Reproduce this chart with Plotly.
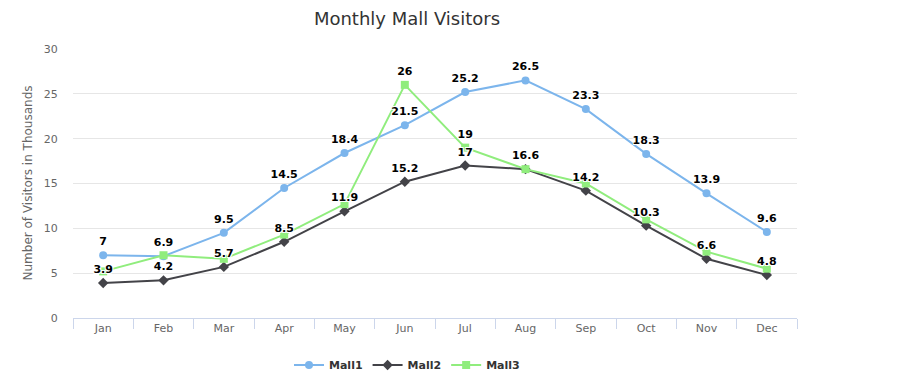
import plotly.graph_objects as go

months = ["Jan", "Feb", "Mar", "Apr", "May", "Jun", "Jul", "Aug", "Sep", "Oct", "Nov", "Dec"]
mall1 = [7, 6.9, 9.5, 14.5, 18.4, 21.5, 25.2, 26.5, 23.3, 18.3, 13.9, 9.6]
mall2 = [3.9, 4.2, 5.7, 8.5, 11.9, 15.2, 17, 16.6, 14.2, 10.3, 6.6, 4.8]
mall3 = [5.2, 7.0, 6.6, 9.3, 12.7, 26, 19, 16.6, 15.0, 11.0, 7.4, 5.5]
# Mall3 labels that remain visible (others hidden due to overlap)
mall3_label_shown = [False, False, False, False, False, True, True, False, False, False, False, False]

FONT = "DejaVu Sans"
shadow = "1px 1px 0 #fff, -1px -1px 0 #fff, 1px -1px 0 #fff, -1px 1px 0 #fff"

def fmt(v):
    return f"{v:g}"

fig = go.Figure()
series = [
    ("Mall1", mall1, "#7cb5ec", "circle", 8),
    ("Mall2", mall2, "#434348", "diamond", 8),
    ("Mall3", mall3, "#90ed7d", "square", 8),
]
for name, vals, color, sym, sz in series:
    fig.add_trace(go.Scatter(
        x=months, y=vals, name=name, mode="lines+markers",
        line=dict(color=color, width=2),
        marker=dict(symbol=sym, size=sz, color=color),
    ))

labels = [
    (mall1, [fmt(v) for v in mall1]),
    (mall2, [fmt(v) for v in mall2]),
    (mall3, [fmt(v) if s else "" for v, s in zip(mall3, mall3_label_shown)]),
]
for vals, txt in labels:
    fig.add_trace(go.Scatter(
        x=months, y=vals, mode="markers+text", text=txt, textposition="top center",
        marker=dict(size=10, opacity=0),
        textfont=dict(family=FONT, size=11, color="#000000", weight="bold", shadow=shadow),
        showlegend=False, hoverinfo="skip",
    ))

# page body has an 8px default margin; compensate so the chart sits at the window origin
OFF = 8
W, H = 903 - 2 * OFF, 388 - 2 * OFF
PL, PR, PT, PB = 73, 797, 49, 318  # plot area in window pixels
fig.update_layout(
    width=W, height=H,
    margin=dict(l=PL - OFF, r=W + OFF - PR, t=PT - OFF, b=H + OFF - PB, autoexpand=False),
    paper_bgcolor="white", plot_bgcolor="white",
    font=dict(family=FONT, color="#666666"),
    title=dict(text="Monthly Mall Visitors", x=(407 - OFF) / W, xanchor="center", xref="container",
               y=1 - (19 - OFF) / H, yanchor="middle", yref="container",
               font=dict(family=FONT, size=18, color="#333333")),
    showlegend=True,
    legend=dict(orientation="h", x=(407 - PL) / (PR - PL), xanchor="center",
                y=-(365 - PB) / (PB - PT), yanchor="middle",
                font=dict(family=FONT, size=11, color="#333333", weight="bold"),
                itemwidth=30, tracegroupgap=0),
    xaxis=dict(
        type="category", range=[-0.5, 11.5], showgrid=False, showline=True,
        linecolor="#ccd6eb", linewidth=1,
        ticks="outside", tickson="boundaries", ticklen=10, tickcolor="#ccd6eb",
        tickfont=dict(family=FONT, size=11, color="#666666"), fixedrange=True,
        automargin=False,
    ),
    yaxis=dict(
        range=[0, 30], dtick=5, showgrid=True, gridcolor="#e6e6e6", gridwidth=1,
        zeroline=False, showline=False, automargin=False,
        ticks="outside", ticklen=12, tickcolor="rgba(0,0,0,0)",
        tickfont=dict(family=FONT, size=11, color="#666666"),
    ),
    annotations=[dict(
        text="Number of Visitors in Thousands", textangle=-90,
        xref="paper", yref="paper", x=(27 - PL) / (PR - PL), y=0.5,
        xanchor="center", yanchor="middle", showarrow=False,
        font=dict(family=FONT, size=12, color="#666666"),
    )],
)

fig.write_html("out.html")
